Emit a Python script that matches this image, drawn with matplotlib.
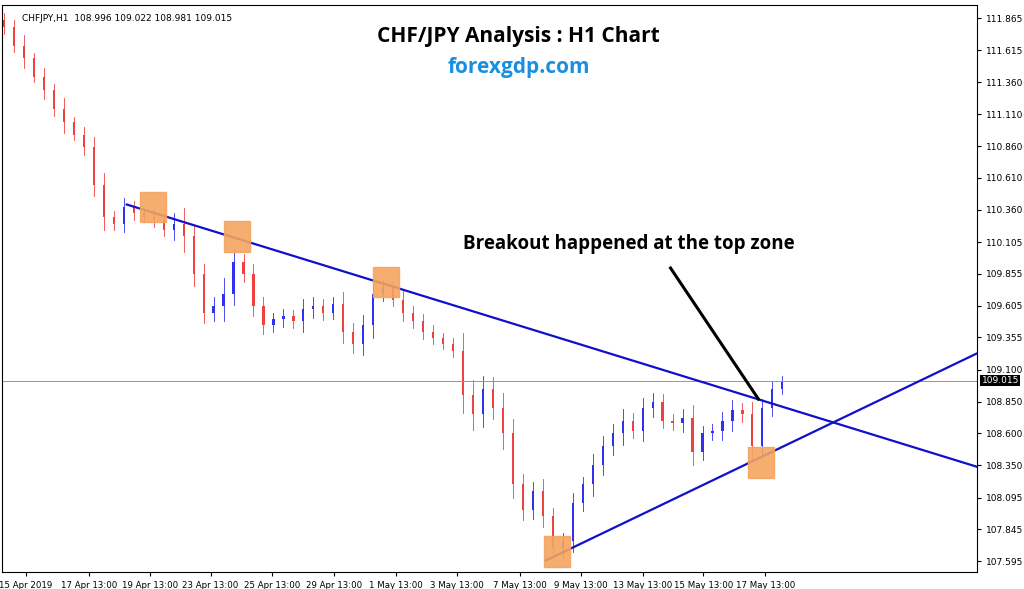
import matplotlib
matplotlib.use("Agg")
import matplotlib.pyplot as plt
from matplotlib.patches import Rectangle

# 8-hour candles (open = previous close)
closes = [
    111.80, 111.65, 111.55, 111.40, 111.30, 111.15, 111.05, 110.95, 110.85, 110.55,
    110.30, 110.25, 110.38, 110.33, 110.30, 110.28, 110.20, 110.25, 110.15, 109.85,
    109.55, 109.60, 109.70, 109.95, 109.85, 109.60, 109.45, 109.50, 109.52, 109.48,
    109.58, 109.60, 109.55, 109.62, 109.40, 109.30, 109.45, 109.70, 109.75, 109.65,
    109.55, 109.48, 109.40, 109.35, 109.30, 109.25, 108.90, 108.75, 108.95, 108.80,
    108.60, 108.20, 108.00, 108.15, 107.95, 107.70, 107.75, 108.05, 108.20, 108.35,
    108.50, 108.60, 108.70, 108.62, 108.80, 108.85, 108.70, 108.68, 108.72, 108.45,
    108.60, 108.62, 108.70, 108.78, 108.75, 108.50, 108.80, 108.95, 109.015,
]
wicks = [
    0.06, 0.05, 0.08, 0.04, 0.07, 0.05, 0.09, 0.04, 0.06, 0.08,
    0.10, 0.05, 0.07, 0.05, 0.04, 0.06, 0.05, 0.08, 0.12, 0.09,
    0.08, 0.07, 0.12, 0.09, 0.06, 0.08, 0.07, 0.05, 0.06, 0.05,
    0.08, 0.07, 0.06, 0.05, 0.09, 0.07, 0.08, 0.10, 0.06, 0.05,
    0.07, 0.05, 0.06, 0.05, 0.04, 0.05, 0.14, 0.12, 0.10, 0.09,
    0.12, 0.11, 0.08, 0.07, 0.09, 0.06, 0.07, 0.08, 0.06, 0.09,
    0.08, 0.07, 0.09, 0.06, 0.08, 0.07, 0.06, 0.05, 0.07, 0.10,
    0.06, 0.05, 0.07, 0.08, 0.06, 0.10, 0.07, 0.06, 0.04,
]
price_ticks = [111.865, 111.615, 111.360, 111.110, 110.860, 110.610, 110.360, 110.105,
               109.855, 109.605, 109.355, 109.100, 108.850, 108.600, 108.350, 108.095,
               107.845, 107.595]
date_labels = ["15 Apr 2019", "17 Apr 13:00", "19 Apr 13:00", "23 Apr 13:00", "25 Apr 13:00",
               "29 Apr 13:00", "1 May 13:00", "3 May 13:00", "7 May 13:00", "9 May 13:00",
               "13 May 13:00", "15 May 13:00", "17 May 13:00"]
date_pos = [2.2, 8.5, 14.6, 20.7, 26.9, 33.1, 39.3, 45.4, 51.7, 57.8, 64.0, 70.1, 76.3]
last_price = 109.015
# trendlines as (candle index, price) pairs
down_line = [(12.3, 110.40), (97.8, 108.33)]
up_line = [(54.3, 107.60), (97.8, 109.24)]
boxes = [(14.9, 110.38), (23.3, 110.15), (38.3, 109.79), (55.4, 107.67), (75.9, 108.37)]

fig = plt.figure(figsize=(10.24, 5.89), dpi=100)
ax = fig.add_axes([0.002, 0.029, 0.952, 0.962])
opens = [closes[0] + 0.05] + closes[:-1]
for i, (o, c, w) in enumerate(zip(opens, closes, wicks)):
    col = "#3030f0" if c >= o else "#f04040"
    ax.plot([i, i], [min(o, c) - w, max(o, c) + w], color=col, lw=0.6)
    ax.bar(i, max(abs(c - o), 0.005), bottom=min(o, c), width=0.22, color=col)

ax.axhline(last_price, color="#8899aa", lw=0.7)
for line in (down_line, up_line):
    ax.plot([p[0] for p in line], [p[1] for p in line], color="#1010cc", lw=1.6)
for bx, by in boxes:
    ax.add_patch(Rectangle((bx - 1.3, by - 0.12), 2.6, 0.24, color="#f4a460", alpha=0.9, zorder=3))

ax.set_xlim(-0.2, 97.5)
ax.set_ylim(107.51, 111.967)
ax.yaxis.tick_right()
ax.set_yticks(price_ticks)
ax.set_yticklabels([f"{p:.3f}" for p in price_ticks], fontsize=6.5)
ax.set_xticks(date_pos)
ax.set_xticklabels(date_labels, fontsize=6.2)
ax.tick_params(length=3)
ax.text(1.005, last_price, f"{last_price:.3f}", transform=ax.get_yaxis_transform(),
        fontsize=6.5, color="white", va="center",
        bbox=dict(facecolor="black", edgecolor="none", pad=1))

ax.text(0.02, 0.985, "CHFJPY,H1  108.996 109.022 108.981 109.015", transform=ax.transAxes,
        fontsize=6.5, va="top")
ax.text(0.53, 0.945, "CHF/JPY Analysis : H1 Chart", transform=ax.transAxes, ha="center",
        va="center", fontsize=15, fontweight="bold", family="Open Sans")
ax.text(0.53, 0.89, "forexgdp.com", transform=ax.transAxes, ha="center", va="center",
        fontsize=15, fontweight="bold", color="#1a8fe0", family="Open Sans")
ax.text(46.0, 110.09, "Breakout happened at the top zone", fontsize=13.5, fontweight="bold",
        family="Open Sans", va="center")
ax.plot([66.8, 75.6], [109.90, 108.87], color="black", lw=2.2)

fig.savefig("out.png", dpi=100)
